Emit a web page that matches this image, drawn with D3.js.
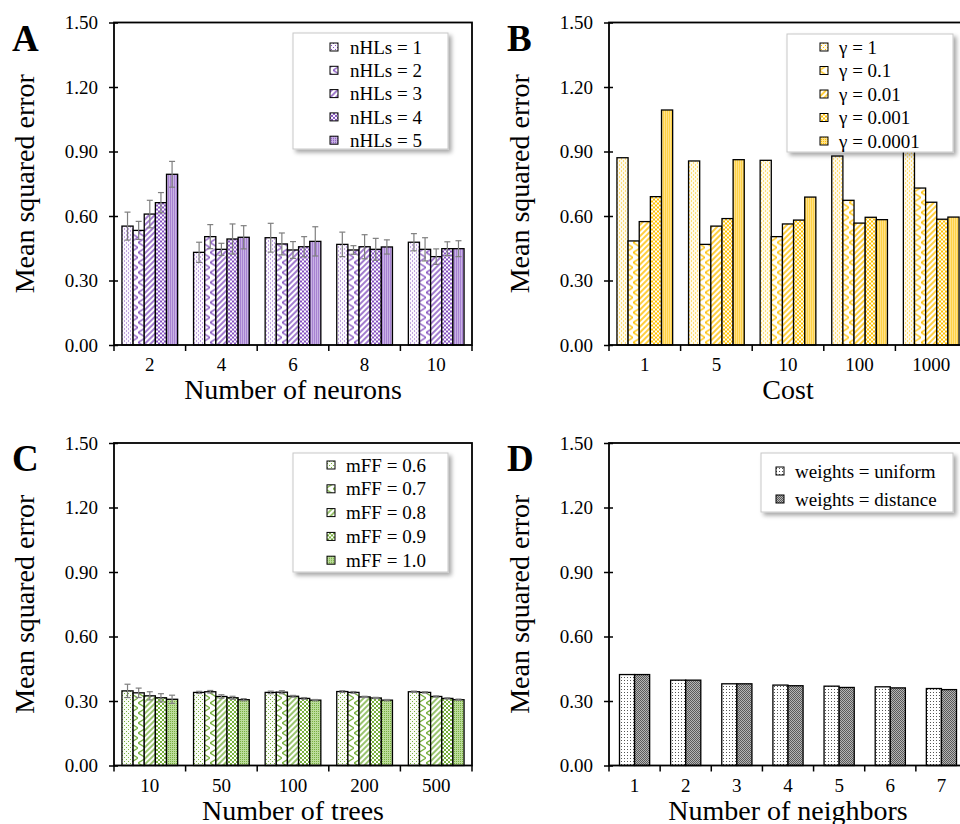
<!DOCTYPE html>
<html>
<head>
<meta charset="utf-8">
<script src="https://cdn.jsdelivr.net/npm/d3@7"></script>
<style>
  body { margin: 0; background: #fff; }
  text { font-family: "Liberation Serif", "Times New Roman", serif; fill: #000; }
</style>
</head>
<body>
<div id="chart-container"></div>
<script>
// ---- data ----
const yTicks = [0, 0.3, 0.6, 0.9, 1.2, 1.5];

const neuronCats = ["2", "4", "6", "8", "10"];
const nhlsNames = ["nHLs = 1", "nHLs = 2", "nHLs = 3", "nHLs = 4", "nHLs = 5"];
const nhls1 = [0.553, 0.431, 0.499, 0.468, 0.478];
const nhls2 = [0.533, 0.504, 0.470, 0.442, 0.445];
const nhls3 = [0.609, 0.445, 0.442, 0.457, 0.411];
const nhls4 = [0.662, 0.493, 0.457, 0.445, 0.448];
const nhls5 = [0.794, 0.501, 0.482, 0.456, 0.448];
const nhlsErr1 = [0.065, 0.047, 0.067, 0.057, 0.040];
const nhlsErr2 = [0.042, 0.056, 0.051, 0.020, 0.054];
const nhlsErr3 = [0.064, 0.028, 0.039, 0.056, 0.036];
const nhlsErr4 = [0.047, 0.070, 0.047, 0.051, 0.032];
const nhlsErr5 = [0.060, 0.054, 0.068, 0.033, 0.037];

const costCats = ["1", "5", "10", "100", "1000"];
const gammaNames = ["γ = 1", "γ = 0.1", "γ = 0.01", "γ = 0.001", "γ = 0.0001"];
const gamma1 = [0.871, 0.856, 0.859, 0.879, 0.940];
const gamma01 = [0.484, 0.468, 0.504, 0.673, 0.730];
const gamma001 = [0.574, 0.553, 0.563, 0.567, 0.664];
const gamma0001 = [0.690, 0.588, 0.581, 0.594, 0.585];
const gamma00001 = [1.093, 0.862, 0.688, 0.583, 0.595];

const treeCats = ["10", "50", "100", "200", "500"];
const mffNames = ["mFF = 0.6", "mFF = 0.7", "mFF = 0.8", "mFF = 0.9", "mFF = 1.0"];
const mff06 = [0.347, 0.340, 0.340, 0.344, 0.343];
const mff07 = [0.338, 0.343, 0.341, 0.340, 0.340];
const mff08 = [0.324, 0.321, 0.322, 0.319, 0.321];
const mff09 = [0.315, 0.315, 0.312, 0.314, 0.312];
const mff10 = [0.308, 0.306, 0.304, 0.304, 0.306];
const mffErr06 = [0.031, 0.005, 0.006, 0.004, 0.003];
const mffErr07 = [0.022, 0.006, 0.007, 0.004, 0.003];
const mffErr08 = [0.019, 0.008, 0.004, 0.003, 0.003];
const mffErr09 = [0.019, 0.007, 0.004, 0.003, 0.003];
const mffErr10 = [0.019, 0.005, 0.003, 0.003, 0.003];

const neighborCats = ["1", "2", "3", "4", "5", "6", "7"];
const weightNames = ["weights = uniform", "weights = distance"];
const uniformMse = [0.423, 0.397, 0.380, 0.374, 0.369, 0.366, 0.358];
const distanceMse = [0.423, 0.397, 0.380, 0.371, 0.363, 0.361, 0.353];

// ---- layout ----
const width = 960;
const height = 824;
const plotW = 358;
const plotH = 322.5;

const svg = d3.select("#chart-container")
    .append("svg")
    .attr("width", width)
    .attr("height", height);

const defs = svg.append("defs");

const shadow = defs.append("filter")
    .attr("id", "shadow")
    .attr("x", "-10%").attr("y", "-10%")
    .attr("width", "130%").attr("height", "140%");
shadow.append("feDropShadow")
    .attr("dx", 3).attr("dy", 3)
    .attr("stdDeviation", 2)
    .attr("flood-color", "#000")
    .attr("flood-opacity", 0.35);

// Excel-like pattern fills, one set per colour
function patternSet(name, color, tint, dotBg) {
    const ids = [];
    // 1: sparse dots
    let p = defs.append("pattern").attr("id", name + "1")
        .attr("patternUnits", "userSpaceOnUse").attr("width", 4).attr("height", 4);
    p.append("rect").attr("width", 4).attr("height", 4).attr("fill", dotBg);
    p.append("rect").attr("x", 0).attr("y", 0).attr("width", 1).attr("height", 1).attr("fill", color);
    p.append("rect").attr("x", 2).attr("y", 2).attr("width", 1).attr("height", 1).attr("fill", color);
    ids.push(name + "1");
    // 2: zig zag
    p = defs.append("pattern").attr("id", name + "2")
        .attr("patternUnits", "userSpaceOnUse").attr("width", 8).attr("height", 10);
    p.append("rect").attr("width", 8).attr("height", 10).attr("fill", "#fff");
    p.append("path").attr("d", "M0,0 L8,5 L0,10")
        .attr("fill", "none").attr("stroke", color).attr("stroke-width", 1.4);
    ids.push(name + "2");
    // 3: upward diagonal
    p = defs.append("pattern").attr("id", name + "3")
        .attr("patternUnits", "userSpaceOnUse").attr("width", 4).attr("height", 4)
        .attr("patternTransform", "rotate(45)");
    p.append("rect").attr("width", 4).attr("height", 4).attr("fill", "#fff");
    p.append("line").attr("x1", 1).attr("y1", 0).attr("x2", 1).attr("y2", 4)
        .attr("stroke", color).attr("stroke-width", 1.5);
    ids.push(name + "3");
    // 4: small checker
    p = defs.append("pattern").attr("id", name + "4")
        .attr("patternUnits", "userSpaceOnUse").attr("width", 4).attr("height", 4);
    p.append("rect").attr("width", 4).attr("height", 4).attr("fill", "#fff");
    p.append("rect").attr("width", 2).attr("height", 2).attr("fill", color);
    p.append("rect").attr("x", 2).attr("y", 2).attr("width", 2).attr("height", 2).attr("fill", color);
    ids.push(name + "4");
    // 5: dense fine dots
    p = defs.append("pattern").attr("id", name + "5")
        .attr("patternUnits", "userSpaceOnUse").attr("width", 2).attr("height", 2);
    p.append("rect").attr("width", 2).attr("height", 2).attr("fill", tint);
    p.append("rect").attr("width", 1).attr("height", 1).attr("fill", color);
    ids.push(name + "5");
    return ids.map(id => `url(#${id})`);
}

const purpleFills = patternSet("pur", "#8552c0", "#c9b3e4", "#fbf8fe");
const yellowFills = patternSet("yel", "#ffc000", "#ffe28a", "#fffaea");
const greenFills = patternSet("grn", "#78b03e", "#bcdc9c", "#f9fcf5");

// gray fills for panel D
let gp = defs.append("pattern").attr("id", "grayDots")
    .attr("patternUnits", "userSpaceOnUse").attr("width", 3).attr("height", 3);
gp.append("rect").attr("width", 3).attr("height", 3).attr("fill", "#fff");
gp.append("rect").attr("width", 1).attr("height", 1).attr("fill", "#555");
gp = defs.append("pattern").attr("id", "grayDense")
    .attr("patternUnits", "userSpaceOnUse").attr("width", 2).attr("height", 2);
gp.append("rect").attr("width", 2).attr("height", 2).attr("fill", "#b5b5b5");
gp.append("rect").attr("width", 1).attr("height", 1).attr("fill", "#5a5a5a");
gp.append("rect").attr("x", 1).attr("y", 1).attr("width", 1).attr("height", 1).attr("fill", "#5a5a5a");
const grayFills = ["url(#grayDots)", "url(#grayDense)"];

const panels = [
    {
        letter: "A", left: 114, top: 22.5, cats: neuronCats, names: nhlsNames,
        series: [nhls1, nhls2, nhls3, nhls4, nhls5],
        errors: [nhlsErr1, nhlsErr2, nhlsErr3, nhlsErr4, nhlsErr5],
        fills: purpleFills, pad: 0.222, xTitle: "Number of neurons",
        legend: { x: 179, y: 10.5, w: 155, h: 116, row0: 14, step: 23.3, sx: 37, tx: 57 }
    },
    {
        letter: "B", left: 609, top: 22.5, cats: costCats, names: gammaNames,
        series: [gamma1, gamma01, gamma001, gamma0001, gamma00001],
        errors: null,
        fills: yellowFills, pad: 0.222, xTitle: "Cost",
        legend: { x: 178, y: 11.5, w: 166, h: 118, row0: 13, step: 23.5, sx: 33, tx: 52 }
    },
    {
        letter: "C", left: 114, top: 443, cats: treeCats, names: mffNames,
        series: [mff06, mff07, mff08, mff09, mff10],
        errors: [mffErr06, mffErr07, mffErr08, mffErr09, mffErr10],
        fills: greenFills, pad: 0.222, xTitle: "Number of trees",
        legend: { x: 179, y: 10, w: 155, h: 119, row0: 12, step: 23.8, sx: 34, tx: 53 }
    },
    {
        letter: "D", left: 609, top: 443, cats: neighborCats, names: weightNames,
        series: [uniformMse, distanceMse],
        errors: null,
        fills: grayFills, pad: 0.41, xTitle: "Number of neighbors",
        legend: { x: 152, y: 10, w: 192, h: 59, row0: 18, step: 28, sx: 15, tx: 34 }
    }
];

panels.forEach(drawPanel);

function drawPanel(cfg) {
    const g = svg.append("g")
        .attr("transform", `translate(${cfg.left},${cfg.top})`);

    const x = d3.scaleBand()
        .domain(cfg.cats)
        .range([0, plotW])
        .paddingInner(cfg.pad)
        .paddingOuter(cfg.pad / 2);

    const xSub = d3.scaleBand()
        .domain(d3.range(cfg.series.length))
        .range([0, x.bandwidth()]);

    const y = d3.scaleLinear()
        .domain([0, 1.5])
        .range([plotH, 0]);

    // bars
    cfg.series.forEach((vals, s) => {
        g.selectAll(null)
            .data(vals)
            .enter()
            .append("rect")
            .attr("x", (d, i) => x(cfg.cats[i]) + xSub(s))
            .attr("y", d => y(d))
            .attr("width", xSub.bandwidth())
            .attr("height", d => plotH - y(d))
            .attr("fill", cfg.fills[s])
            .attr("stroke", "#000")
            .attr("stroke-width", 1.3);

        if (cfg.errors) {
            const errs = cfg.errors[s];
            const eb = g.selectAll(null)
                .data(vals)
                .enter()
                .append("g")
                .attr("stroke", "#7f7f7f")
                .attr("stroke-width", 1.2)
                .attr("transform", (d, i) =>
                    `translate(${x(cfg.cats[i]) + xSub(s) + xSub.bandwidth() / 2},0)`);
            eb.append("line")
                .attr("y1", (d, i) => y(d - errs[i]))
                .attr("y2", (d, i) => y(d + errs[i]));
            eb.append("line")
                .attr("x1", -3).attr("x2", 3)
                .attr("y1", (d, i) => y(d + errs[i]))
                .attr("y2", (d, i) => y(d + errs[i]));
            eb.append("line")
                .attr("x1", -3).attr("x2", 3)
                .attr("y1", (d, i) => y(d - errs[i]))
                .attr("y2", (d, i) => y(d - errs[i]));
        }
    });

    // frame
    g.append("rect")
        .attr("width", plotW)
        .attr("height", plotH)
        .attr("fill", "none")
        .attr("stroke", "#000")
        .attr("stroke-width", 1.8);

    // y axis
    const yAxis = g.append("g")
        .call(d3.axisLeft(y)
            .tickValues(yTicks)
            .tickFormat(d3.format(".2f"))
            .tickSize(5)
            .tickPadding(11));
    yAxis.select(".domain").remove();
    yAxis.selectAll(".tick line").attr("stroke-width", 1.5).attr("x2", 4).attr("x1", -5);
    yAxis.selectAll(".tick text")
        .style("font-family", "Liberation Serif")
        .style("font-size", "19px");

    // x axis labels
    const xAxis = g.append("g")
        .attr("transform", `translate(0,${plotH})`)
        .call(d3.axisBottom(x).tickSize(0).tickPadding(13));
    xAxis.select(".domain").remove();
    xAxis.selectAll(".tick text")
        .style("font-family", "Liberation Serif")
        .style("font-size", "19px");

    // boundary ticks between categories
    g.append("g")
        .selectAll("line")
        .data(d3.range(cfg.cats.length + 1))
        .enter()
        .append("line")
        .attr("x1", i => i * x.step())
        .attr("x2", i => i * x.step())
        .attr("y1", plotH)
        .attr("y2", plotH + 6)
        .attr("stroke", "#000")
        .attr("stroke-width", 1.5);

    // titles
    g.append("text")
        .attr("x", plotW / 2)
        .attr("y", plotH + 54)
        .attr("text-anchor", "middle")
        .style("font-size", "28px")
        .text(cfg.xTitle);

    g.append("text")
        .attr("transform", `translate(-90,${plotH / 2}) rotate(-90)`)
        .attr("dy", "0.35em")
        .attr("text-anchor", "middle")
        .style("font-size", "28px")
        .text("Mean squared error");

    g.append("text")
        .attr("x", -102)
        .attr("y", 28)
        .style("font-size", "37px")
        .style("font-weight", "bold")
        .text(cfg.letter);

    // legend
    const L = cfg.legend;
    const leg = g.append("g")
        .attr("transform", `translate(${L.x},${L.y})`);
    leg.append("rect")
        .attr("width", L.w)
        .attr("height", L.h)
        .attr("fill", "#fff")
        .attr("stroke", "#c8c8c8")
        .attr("stroke-width", 1)
        .attr("filter", "url(#shadow)");
    const items = leg.selectAll(".item")
        .data(cfg.names)
        .enter()
        .append("g")
        .attr("class", "item")
        .attr("transform", (d, i) => `translate(0,${L.row0 + i * L.step})`);
    items.append("rect")
        .attr("x", L.sx)
        .attr("y", -4)
        .attr("width", 8)
        .attr("height", 8)
        .attr("fill", (d, i) => cfg.fills[i])
        .attr("stroke", "#000")
        .attr("stroke-width", 1);
    items.append("text")
        .attr("x", L.tx)
        .attr("dy", "0.35em")
        .style("font-size", "19px")
        .text(d => d);
}
</script>
</body>
</html>
